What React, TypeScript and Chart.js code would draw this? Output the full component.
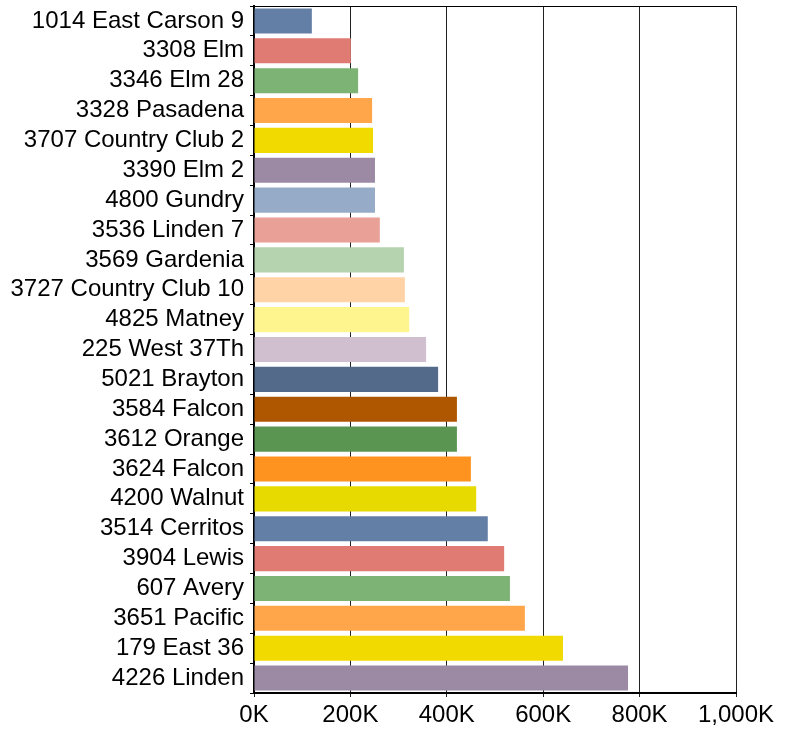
import React, { useEffect, useRef } from "react";
import { Chart, registerables } from "chart.js";

Chart.register(...registerables);

const categories = [
  "1014 East Carson 9",
  "3308 Elm",
  "3346 Elm 28",
  "3328 Pasadena",
  "3707 Country Club 2",
  "3390 Elm 2",
  "4800 Gundry",
  "3536 Linden 7",
  "3569 Gardenia",
  "3727 Country Club 10",
  "4825 Matney",
  "225 West 37Th",
  "5021 Brayton",
  "3584 Falcon",
  "3612 Orange",
  "3624 Falcon",
  "4200 Walnut",
  "3514 Cerritos",
  "3904 Lewis",
  "607 Avery",
  "3651 Pacific",
  "179 East 36",
  "4226 Linden",
];

const values = [
  120000, 201000, 216000, 245000, 247000, 251000, 251000, 261000, 311000,
  313000, 322000, 357000, 382000, 421000, 421000, 450000, 461000, 485000,
  519000, 531000, 562000, 641000, 776000,
];

const barColors = [
  "#647FA6", "#E07B74", "#7DB374", "#FFA64A", "#F0DA00", "#9C8AA5",
  "#96ABC8", "#E8A097", "#B5D3AF", "#FFD3A5", "#FFF58F", "#D0BFCE",
  "#536A8A", "#AF5700", "#5A9652", "#FF9320", "#E6DA00", "#647FA6",
  "#E07B74", "#7DB374", "#FFA64A", "#F0DA00", "#9C8AA5",
];

const xMin = 0;
const xMax = 1000000;
const xStep = 200000;

const FONT = "'Liberation Sans', Arial, sans-serif";

const topBorder = {
  id: "topBorder",
  afterDraw(chart: any) {
    const { ctx, chartArea } = chart;
    ctx.save();
    ctx.strokeStyle = "#000";
    ctx.lineWidth = 1;
    ctx.beginPath();
    ctx.moveTo(chartArea.left, chartArea.top + 0.5);
    ctx.lineTo(chartArea.right, chartArea.top + 0.5);
    ctx.stroke();
    ctx.restore();
  },
};

export default function App() {
  const ref = useRef<HTMLCanvasElement | null>(null);
  useEffect(() => {
    if (!ref.current) return;
    const chart = new Chart(ref.current, {
      type: "bar",
      data: {
        labels: categories,
        datasets: [
          {
            data: values,
            backgroundColor: barColors,
            borderWidth: 0,
            barPercentage: 0.84,
            categoryPercentage: 1,
          },
        ],
      },
      options: {
        indexAxis: "y",
        responsive: false,
        animation: false,
        layout: { padding: { left: 0, top: 6, right: 55, bottom: 0 } },
        plugins: {
          legend: { display: false },
          tooltip: { enabled: false },
        },
        scales: {
          x: {
            min: xMin,
            max: xMax,
            ticks: {
              stepSize: xStep,
              color: "#000",
              font: { family: FONT, size: 24 },
              padding: 4,
              maxRotation: 0,
              callback: (v: any) =>
                (Number(v) / 1000).toLocaleString("en-US") + "K",
            },
            grid: {
              color: "#222",
              lineWidth: 1,
              tickLength: 4,
              drawTicks: true,
            },
            border: { display: true, color: "#000", width: 2 },
            afterFit: (s: any) => {
              s.height = 38;
              s.paddingLeft = 0;
              s.paddingRight = 0;
            },
          },
          y: {
            ticks: {
              color: "#000",
              font: { family: FONT, size: 24 },
              padding: 6,
              autoSkip: false,
            },
            grid: {
              drawOnChartArea: false,
              drawTicks: true,
              tickLength: 4,
              color: "#000",
            },
            border: { display: true, color: "#000", width: 2 },
            afterFit: (s: any) => {
              s.width = 254;
              s.paddingTop = 0;
              s.paddingBottom = 0;
            },
          },
        },
      },
      plugins: [topBorder],
    });
    return () => chart.destroy();
  }, []);
  return (
    <div style={{ position: "absolute", left: 0, top: 0, width: 791, height: 731, background: "#fff" }}>
      <canvas ref={ref} width={791} height={731} />
    </div>
  );
}
